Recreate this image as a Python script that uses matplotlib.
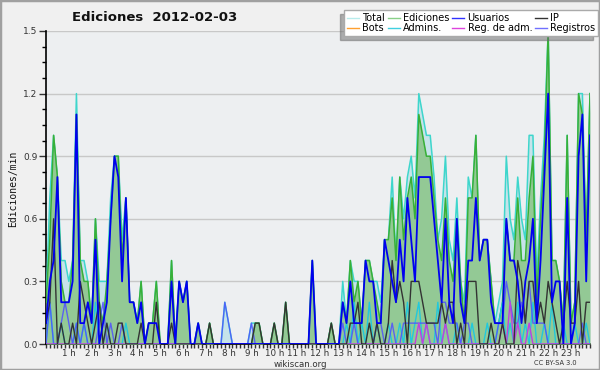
import numpy as np
from matplotlib import pyplot as plt
from matplotlib.patches import Rectangle
from matplotlib.lines import Line2D

# ediciones por 10 minutos (en decimas de ediciones/min), 6 valores por hora
total = [2, 7, 10, 8, 4, 4,   3, 4, 12, 4, 4, 3,   1, 6, 3, 3, 3, 7,   9, 9, 5, 7, 2, 2,
         1, 3, 0, 1, 1, 3,    0, 0, 0, 4, 0, 3,    2, 3, 0, 0, 1, 0,   0, 1, 0, 0, 0, 2,
         1, 0, 0, 0, 0, 0,    1, 1, 1, 0, 0, 0,    1, 0, 0, 2, 0, 0,   0, 0, 0, 0, 4, 0,
         0, 0, 0, 1, 0, 0,    3, 1, 4, 3, 3, 1,    4, 4, 3, 3, 2, 5,   5, 8, 4, 8, 6, 8,
         9, 7, 12, 11, 10, 10, 8, 5, 6, 9, 5, 4,   7, 3, 2, 8, 7, 10,  4, 5, 5, 3, 1, 2,
         3, 9, 6, 5, 8, 6,    5, 10, 10, 3, 7, 10, 15, 4, 4, 3, 1, 10, 1, 2, 12, 12, 5, 12]
ediciones = [2, 5, 10, 8, 3, 2,   2, 4, 11, 4, 3, 3,   1, 6, 2, 1, 3, 6,   9, 9, 4, 7, 2, 2,
             1, 3, 0, 1, 1, 3,    0, 0, 0, 4, 0, 3,    2, 3, 0, 0, 1, 0,   0, 1, 0, 0, 0, 0,
             0, 0, 0, 0, 0, 0,    0, 1, 1, 0, 0, 0,    1, 0, 0, 2, 0, 0,   0, 0, 0, 0, 4, 0,
             0, 0, 0, 1, 0, 0,    2, 1, 4, 2, 3, 1,    4, 4, 3, 2, 1, 5,   5, 7, 4, 8, 5, 7,
             8, 6, 11, 10, 9, 9,  7, 5, 4, 7, 4, 3,    6, 3, 1, 7, 7, 10,  4, 5, 5, 3, 1, 1,
             2, 6, 4, 4, 7, 4,    4, 7, 9, 2, 6, 9,    15, 4, 4, 3, 1, 10, 1, 2, 12, 11, 5, 12]
usuarios = [1, 3, 4, 8, 2, 2,   2, 3, 11, 1, 1, 2,   1, 5, 0, 1, 2, 6,   9, 8, 3, 7, 2, 2,
            1, 2, 0, 1, 1, 1,   0, 0, 0, 3, 0, 3,    2, 3, 0, 0, 1, 0,   0, 0, 0, 0, 0, 0,
            0, 0, 0, 0, 0, 0,   0, 0, 0, 0, 0, 0,    0, 0, 0, 0, 0, 0,   0, 0, 0, 0, 4, 0,
            0, 0, 0, 0, 0, 0,   2, 1, 3, 1, 1, 1,    4, 3, 3, 1, 1, 5,   4, 3, 2, 5, 3, 7,
            5, 3, 8, 8, 8, 8,   6, 4, 2, 6, 2, 1,    6, 2, 1, 4, 4, 7,   4, 5, 5, 2, 1, 1,
            1, 6, 4, 4, 3, 1,   3, 4, 6, 1, 4, 8,    12, 2, 3, 3, 0, 7,  0, 1, 9, 11, 3, 10]
ip = [1, 2, 6, 0, 1, 0,   0, 1, 0, 3, 2, 1,   0, 1, 2, 0, 1, 0,   0, 1, 1, 0, 0, 0,
      0, 1, 0, 0, 0, 2,   0, 0, 0, 1, 0, 0,   0, 0, 0, 0, 0, 0,   0, 1, 0, 0, 0, 0,
      0, 0, 0, 0, 0, 0,   0, 1, 1, 0, 0, 0,   1, 0, 0, 2, 0, 0,   0, 0, 0, 0, 0, 0,
      0, 0, 0, 1, 0, 0,   0, 0, 1, 1, 2, 0,   0, 1, 0, 1, 0, 0,   1, 4, 2, 3, 2, 0,
      3, 3, 3, 2, 1, 1,   1, 1, 2, 1, 2, 2,   0, 1, 0, 3, 3, 3,   0, 0, 0, 1, 0, 0,
      1, 0, 0, 0, 4, 3,   1, 3, 3, 1, 2, 1,   3, 2, 1, 0, 1, 3,   1, 1, 3, 0, 2, 2]
admins = [0, 2, 0, 0, 1, 0,   0, 0, 1, 0, 1, 0,   0, 2, 0, 0, 1, 0,   0, 0, 0, 1, 0, 0,
          0, 0, 0, 0, 0, 0,   0, 0, 0, 0, 0, 0,   0, 0, 0, 0, 0, 0,   0, 0, 0, 0, 0, 0,
          0, 0, 0, 0, 0, 0,   0, 0, 0, 0, 0, 0,   0, 0, 0, 0, 0, 0,   0, 0, 0, 0, 0, 0,
          0, 0, 0, 0, 0, 0,   0, 1, 0, 2, 0, 1,   0, 2, 0, 1, 0, 0,   1, 0, 0, 1, 0, 2,
          0, 1, 2, 0, 1, 0,   0, 2, 0, 1, 0, 0,   1, 0, 0, 0, 1, 0,   0, 0, 1, 0, 0, 1,
          2, 0, 1, 0, 2, 0,   1, 0, 2, 0, 0, 1,   0, 2, 0, 0, 1, 0,   0, 1, 0, 0, 1, 0]
reg_adm = [0] * 96 + [0, 0, 1, 0, 1, 0,   0, 0, 0, 1, 0, 0,   0, 0, 0, 0, 0, 0,   0, 0, 0, 0, 0, 0,
                      1, 0, 2, 0, 1, 0,   0, 1, 0, 0, 0, 0,   0, 0, 0, 0, 0, 0,   0, 0, 0, 0, 0, 0]
registros = [0, 2, 0, 0, 1, 2,   1, 0, 1, 0, 1, 0,   0, 0, 1, 2, 0, 1,   0, 0, 1, 0, 0, 0,
             0, 0, 0, 0, 0, 0,   0, 0, 0, 0, 0, 0,   0, 0, 0, 0, 0, 0,   0, 0, 0, 0, 0, 2,
             1, 0, 0, 0, 0, 0,   1, 0, 0, 0, 0, 0,   0, 0, 0, 0, 0, 0,   0, 0, 0, 0, 0, 0,
             0, 0, 0, 0, 0, 0,   1, 0, 0, 1, 0, 0,   0, 0, 0, 1, 1, 0,   0, 1, 0, 0, 1, 1,
             1, 1, 1, 1, 1, 1,   1, 0, 2, 2, 1, 1,   1, 0, 1, 1, 0, 0,   0, 0, 0, 0, 0, 1,
             1, 3, 2, 1, 1, 2,   1, 3, 1, 1, 1, 1,   0, 0, 0, 0, 0, 0,   0, 0, 0, 1, 0, 0]

horas = np.arange(len(total)) / 6.0
escala = 0.1  # ediciones/min por unidad


def serie(v):
    return np.array(v) * escala


fig = plt.figure(figsize=(6, 3.7), dpi=100)
fig.patch.set_facecolor('#f0f0f0')
fig.patches.append(Rectangle((0, 0), 1, 1, transform=fig.transFigure, fill=False,
                             edgecolor='#a0a0a0', linewidth=2.5))

ax = fig.add_axes([46 / 600, 26 / 370, 544 / 600, 313 / 370])
ax.set_facecolor('#edeff1')

ax.fill_between(horas, serie(total), color='#c6e3ea', lw=0, zorder=2)
ax.plot(horas, serie(total), color='#3ed6cc', lw=1.1, zorder=3)
ax.fill_between(horas, serie(ediciones), color='#93c995', lw=0, zorder=4)
ax.plot(horas, serie(ediciones), color='#38b038', lw=1.1, zorder=5)
ax.plot(horas, serie(admins), color='#22c8dc', lw=1.0, zorder=6)
ax.plot(horas, serie(registros), color='#5050ff', lw=1.0, alpha=0.85, zorder=6)
ax.plot(horas, serie(reg_adm), color='#c040e0', lw=1.0, zorder=7)
ax.plot(horas, serie(ip), color='#333333', lw=1.0, zorder=8)
ax.plot(horas, serie(usuarios), color='#0000f0', lw=1.3, zorder=9)

ax.set_xlim(0, horas[-1])
ax.set_ylim(0, 1.5)
ax.set_yticks(np.arange(0, 1.51, 0.3))
ax.set_yticklabels(['%.1f' % v for v in np.arange(0, 1.51, 0.3)])
ax.set_yticks(np.arange(0, 1.51, 0.075), minor=True)
ax.set_xticks(range(1, 24))
ax.set_xticklabels(['%d h' % h for h in range(1, 24)])
ax.set_xticks(horas, minor=True)
ax.grid(axis='y', color='#c8c8c8', lw=1, zorder=1)
ax.set_axisbelow(True)
for s in ['top', 'right']:
    ax.spines[s].set_visible(False)
ax.spines['left'].set_linewidth(1.2)
ax.spines['bottom'].set_linewidth(1.2)
ax.tick_params(axis='y', which='major', length=5, width=1, labelsize=6.5, colors='#333333', pad=1)
ax.tick_params(axis='y', which='minor', length=3, width=1)
ax.tick_params(axis='x', which='both', length=3, width=1, labelsize=6.3, colors='#333333', pad=0.5)

fig.text(0.258, 0.953, 'Ediciones  2012-02-03', ha='center', va='center',
         fontsize=9.5, fontweight='bold', color='#111111')
fig.text(0.022, 0.49, 'Ediciones/min', rotation=90, ha='center', va='center',
         fontsize=7, family='DejaVu Sans Mono', color='#111111')
fig.text(0.5, 0.016, 'wikiscan.org', ha='center', va='center', fontsize=6.2, color='#333333')
fig.text(0.925, 0.018, 'CC BY-SA 3.0', ha='center', va='center', fontsize=4.8, color='#333333')

nombres = ['Total', 'Bots', 'Ediciones', 'Admins.', 'Usuarios', 'Reg. de adm.', 'IP', 'Registros']
colores = ['#b8ecec', '#ffa030', '#88d088', '#40d0e0', '#3030ff', '#dd44dd', '#333333', '#7070ff']
handles = [Line2D([], [], color=c, lw=1) for c in colores]
leg = fig.legend(handles, nombres, ncol=4, loc='upper right', bbox_to_anchor=(0.997, 0.973),
                 borderaxespad=0, fontsize=7, frameon=True, fancybox=False, handlelength=1.2,
                 handletextpad=0.35, columnspacing=0.3, labelspacing=0.05,
                 borderpad=0.3, edgecolor='#aaaaaa', shadow={'ox': -3.5, 'oy': -3, 'color': '#6a6a6a'})
leg.get_frame().set_linewidth(1)
leg.set_zorder(20)

plt.savefig('out.png', dpi=100, facecolor=fig.get_facecolor())
